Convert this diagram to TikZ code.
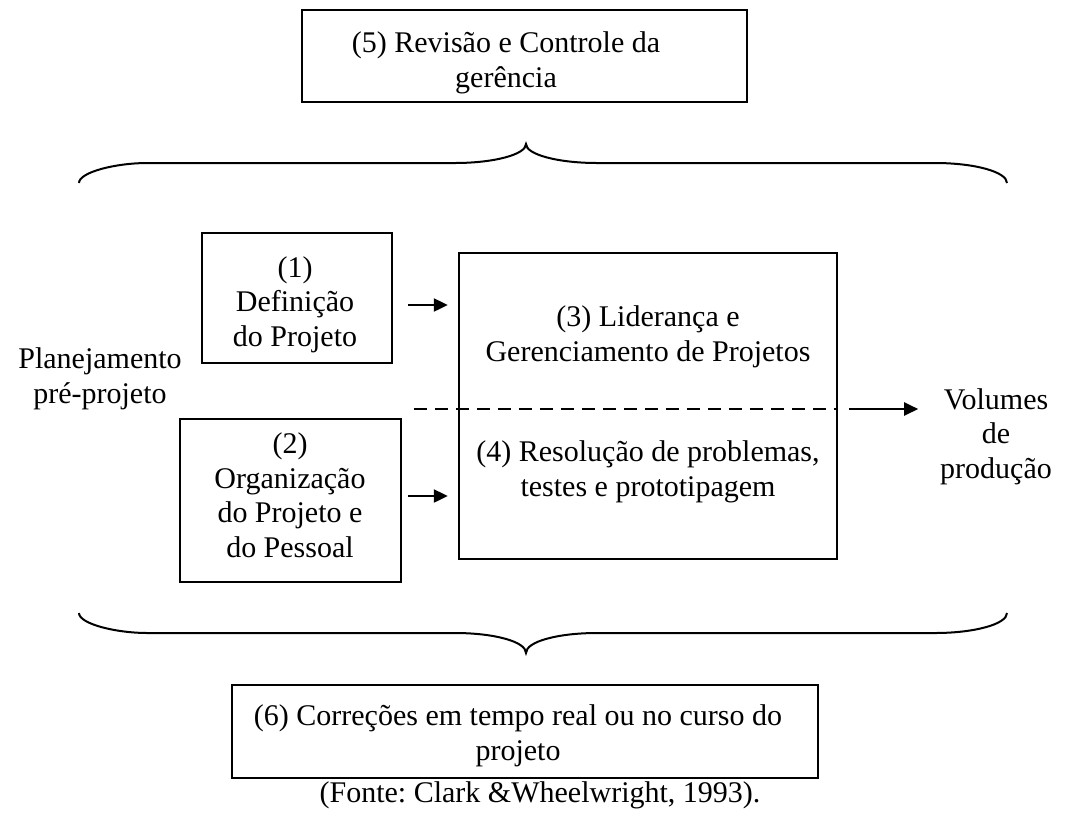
\documentclass[tikz,border=0pt]{standalone}
\usepackage{fontspec}
\setmainfont{Liberation Serif}
\usetikzlibrary{calc,arrows.meta}
\frenchspacing
\begin{document}
\begin{tikzpicture}[x=1pt,y=-1pt,
  box/.style={draw,line width=2.4pt,inner sep=0pt},
  txt/.style={align=center,inner sep=0pt,anchor=base,font=\fontsize{30}{34.5}\selectfont},
  flow/.style={line width=2.2pt,-{Triangle[length=14pt,width=13pt]}},
  split/.style={line width=2.2pt,dash pattern=on 13pt off 8pt},
  brace/.style={line width=2pt}]
\useasboundingbox (0,0) rectangle (1065,812);

% boxes
\node[box,minimum width=445,minimum height=92]  (b5)  at (524.5,56)  {};
\node[box,minimum width=190,minimum height=130] (b1)  at (297,298)   {};
\node[box,minimum width=221,minimum height=163] (b2)  at (290.5,500.5) {};
\node[box,minimum width=378,minimum height=306] (b34) at (648,406)   {};
\node[box,minimum width=586,minimum height=93]  (b6)  at (525,731.5) {};

% texts (anchored at the baseline of their last line)
\node[txt] (t5) at (506,87)  {(5) Revisão e Controle da\\gerência};
\node[txt] (t1) at (295,346) {(1)\\Definição\\do Projeto};
\node[txt] (t2) at (290,557) {(2)\\Organização\\do Projeto e\\do Pessoal};
\node[txt] (t3) at (648,361) {(3) Liderança e\\Gerenciamento de Projetos};
\node[txt] (t4) at (648,496) {(4) Resolução de problemas,\\testes e prototipagem};
\node[txt] (tp) at (100,403) {Planejamento\\pré-projeto};
\node[txt] (tv) at (996,478) {Volumes\\de\\produção};
\node[txt] (t6) at (518,760) {(6) Correções em tempo real ou no curso do\\projeto};
\node[txt] (src) at (540,802) {(Fonte: Clark \&Wheelwright, 1993).};

% dashed split between (3) and (4)
\draw[split] ($(b34.west)+(-44,3)$) -- ($(b34.east)+(0,3)$);

% arrows
\draw[flow] ($(b1.east)+(15,7)$) -- ($(b34.west |- b1.east)+(-10,7)$);
\draw[flow] ($(b2.east)+(6,-4.5)$) -- ($(b34.west |- b2.east)+(-10,-4.5)$);
\draw[flow] ($(b34.east)+(11,3)$) -- ($(b34.east)+(80,3)$);

% upper brace
\draw[brace] (79,183) .. controls (79,172) and (116.5,163) .. (147,163)
  -- (455,163) .. controls (494,163) and (526,154.5) .. (526,144)
  .. controls (526,154.5) and (558,163) .. (597,163)
  -- (935,163) .. controls (975,163) and (1007,172) .. (1007,183);

% lower brace
\draw[brace] (79,613) .. controls (79,624) and (116.5,633) .. (147,633)
  -- (455,633) .. controls (494,633) and (526,641.5) .. (526,653)
  .. controls (526,641.5) and (558,633) .. (597,633)
  -- (935,633) .. controls (975,633) and (1007,624) .. (1007,613);
\end{tikzpicture}
\end{document}
